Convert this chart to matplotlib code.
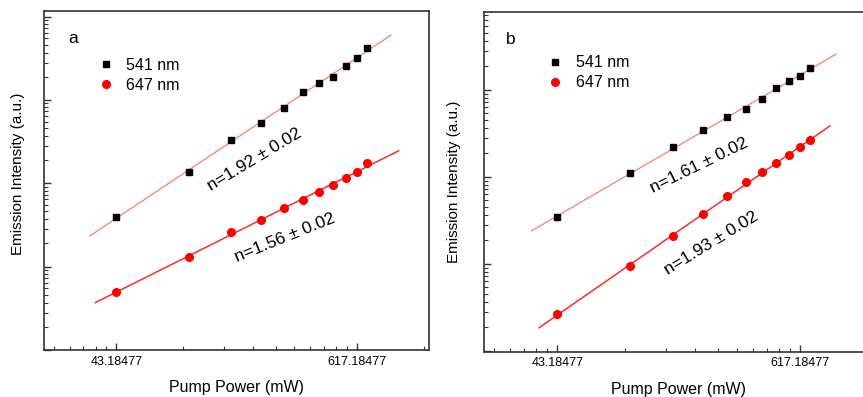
import numpy as np
import matplotlib
matplotlib.use('Agg')
import matplotlib.pyplot as plt

plt.rcParams['font.family'] = ['Liberation Sans', 'DejaVu Sans']

# relative pump level (log axis), same for both panels
pump_level = [1, 2, 3, 4, 5, 6, 7, 8, 9, 10, 11]
xtick_pos = [1, 10]
xtick_labels = ['43.18477', '617.18477']

# panel a
a_541 = [3.94, 13.8, 33.3, 53.5, 79.4, 124, 160, 191, 257, 318, 420]
a_647 = [0.492, 1.32, 2.64, 3.62, 5.0, 6.37, 7.87, 9.57, 11.6, 13.5, 17.3]
a_fit_range_541 = [0.776, 13.9]
a_fit_range_647 = [0.818, 14.96]
a_slopes = ['n=1.92 \u00b1 0.02', 'n=1.56 \u00b1 0.02']

# panel b
b_541 = [3.50, 11.2, 22.5, 35.0, 49.0, 61.5, 79.4, 106, 129, 146, 180]
b_647 = [0.269, 0.955, 2.10, 3.78, 6.10, 8.83, 11.4, 14.7, 17.9, 22.3, 26.6]
b_fit_range_541 = [0.783, 14.1]
b_fit_range_647 = [0.84, 13.3]
b_slopes = ['n=1.61 \u00b1 0.02', 'n=1.93 \u00b1 0.02']


def minor_ticks(lo_exp, hi_exp):
    # Origin-style: each decade split into 10 linear steps
    ticks = []
    for k in range(lo_exp, hi_exp):
        base = 10.0 ** k
        for j in range(1, 10):
            ticks.append(base * (1 + 0.9 * j))
    return ticks


def fit_line(ax, x, y, xr, color, lw):
    p = np.polyfit(np.log10(x), np.log10(y), 1)
    xs = np.array(xr)
    ax.plot(xs, 10 ** np.polyval(p, np.log10(xs)), color=color, lw=lw, zorder=1)


def draw_panel(ax, y541, y647, r541, r647, slopes, letter, letter_x, leg_anchor,
               ylim, txt_pos):
    fit_line(ax, pump_level, y541, r541, '#ff7a7a', 0.9)
    fit_line(ax, pump_level, y647, r647, '#ff2a2a', 1.1)
    ax.plot(pump_level, y541, 's', color='black', ms=5, label='541 nm', zorder=3)
    ax.plot(pump_level, y647, 'o', color='#ff0000', ms=5.5, label='647 nm', zorder=3)

    ax.set_xscale('log')
    ax.set_yscale('log')
    ax.set_xlim(0.5, 20)
    ax.set_ylim(*ylim)

    ax.set_xticks(xtick_pos)
    ax.set_xticklabels(xtick_labels)
    ax.set_xticks([t for t in minor_ticks(-1, 2) if 0.5 < t < 20], minor=True)
    ax.set_xticklabels([], minor=True)
    ax.set_yticks([0.1, 1, 10, 100, 1000])
    ax.set_yticklabels([])
    ax.set_yticks([t for t in minor_ticks(-1, 4) if ylim[0] < t < ylim[1]], minor=True)
    ax.set_yticklabels([], minor=True)
    ax.set_ylim(*ylim)

    ax.tick_params(which='both', direction='in', top=False, right=False,
                   labelsize=9, pad=4, color='#333333')
    ax.tick_params(which='major', length=5, width=1)
    ax.tick_params(which='minor', length=3, width=0.8)
    for s in ax.spines.values():
        s.set_color('#333333')
        s.set_linewidth(1.2)

    ax.set_xlabel('Pump Power (mW)', fontsize=11.5, va='center')
    ax.set_ylabel('Emission Intensity (a.u.)', fontsize=11)
    ax.xaxis.set_label_coords(0.5, -0.112)

    ax.text(letter_x, 0.92, letter, transform=ax.transAxes, fontsize=12.5,
            ha='left', va='center')
    ax.legend(loc='upper left', bbox_to_anchor=leg_anchor, frameon=False,
              fontsize=11.5, handlelength=1.0, handletextpad=0.8,
              labelspacing=0.3, borderpad=0.2)
    for t, (px, py, rot) in zip(slopes, txt_pos):
        ax.text(px, py, t, transform=ax.transAxes, fontsize=12.5,
                rotation=rot, ha='center', va='center', rotation_mode='anchor')


fig = plt.figure(figsize=(8.63, 3.97), dpi=100)
ax1 = fig.add_axes([0.051, 0.1184, 0.446, 0.854])
ax2 = fig.add_axes([0.5612, 0.1141, 0.4504, 0.8557])

draw_panel(ax1, a_541, a_647, a_fit_range_541, a_fit_range_647, a_slopes, 'a',
           0.062, (0.11, 0.895), (0.1, 1170),
           [(0.548, 0.563, 31), (0.626, 0.330, 22)])
ax1.yaxis.set_label_coords(-0.049, 0.52)

draw_panel(ax2, b_541, b_647, b_fit_range_541, b_fit_range_647, b_slopes, 'b',
           0.055, (0.133, 0.905), (0.099, 794),
           [(0.552, 0.547, 26), (0.583, 0.320, 31.5)])
ax2.yaxis.set_label_coords(-0.06, 0.5)

fig.savefig('out.png', dpi=100)
